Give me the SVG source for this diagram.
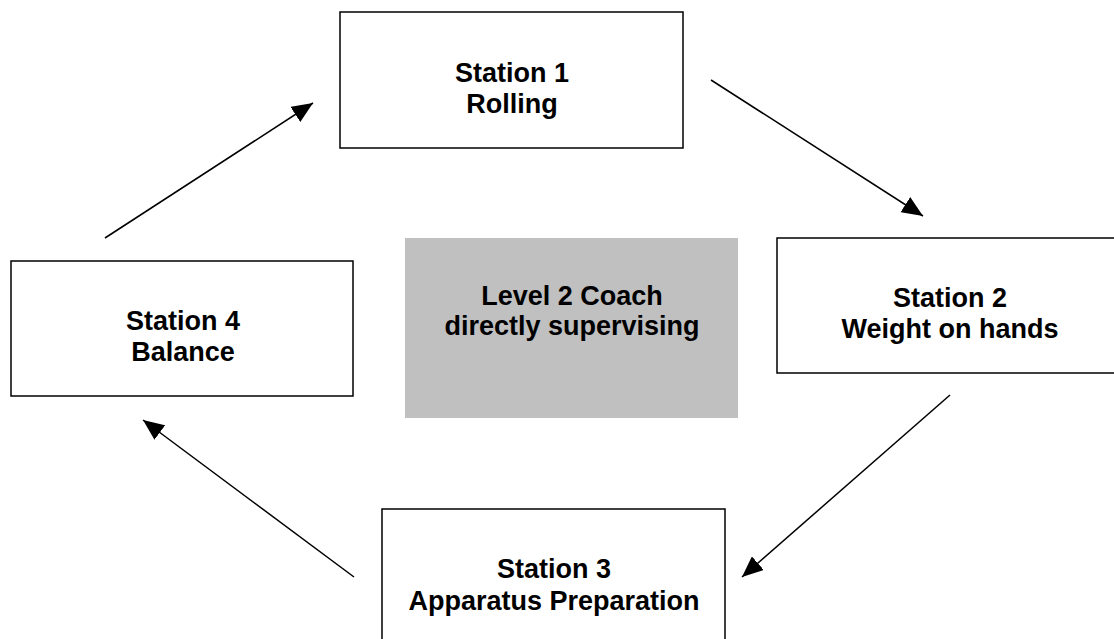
<svg xmlns="http://www.w3.org/2000/svg" width="1114" height="639" viewBox="0 0 1114 639">
  <style>
    .box { fill: #ffffff; stroke: #000000; stroke-width: 1.5; }
    .coach { fill: #c0c0c0; stroke: none; }
    .lbl { font-family: "Liberation Sans", Arial, sans-serif; font-weight: bold; font-size: 27px; fill: #000000; text-anchor: middle; }
    .conn { stroke: #000000; stroke-width: 1.5; fill: none; marker-end: url(#arrow); }
  </style>
  <defs>
    <marker id="arrow" markerUnits="userSpaceOnUse" viewBox="0 0 21 18" refX="21" refY="9" markerWidth="21" markerHeight="18" orient="auto">
      <path d="M0,0 L21,9 L0,18 z" fill="#000000"/>
    </marker>
  </defs>
  <rect width="1114" height="639" fill="#ffffff"/>

  <g id="station1">
    <rect class="box" x="340" y="12" width="343" height="136"/>
    <text class="lbl" x="512" y="82">Station 1</text>
    <text class="lbl" x="512" y="113">Rolling</text>
  </g>

  <g id="station2">
    <rect class="box" x="777" y="238" width="346" height="135"/>
    <text class="lbl" x="950" y="307">Station 2</text>
    <text class="lbl" x="950" y="338">Weight on hands</text>
  </g>

  <g id="station3">
    <rect class="box" x="382" y="509" width="343" height="140"/>
    <text class="lbl" x="554" y="578">Station 3</text>
    <text class="lbl" x="554" y="610">Apparatus Preparation</text>
  </g>

  <g id="station4">
    <rect class="box" x="11" y="261" width="342" height="135"/>
    <text class="lbl" x="183" y="330">Station 4</text>
    <text class="lbl" x="183" y="361">Balance</text>
  </g>

  <g id="coach">
    <rect class="coach" x="405" y="238" width="333" height="180"/>
    <text class="lbl" x="572" y="305">Level 2 Coach</text>
    <text class="lbl" x="572" y="335">directly supervising</text>
  </g>

  <g id="connectors">
    <line class="conn" x1="105" y1="238" x2="313" y2="103"/>
    <line class="conn" x1="711" y1="80" x2="923" y2="216"/>
    <line class="conn" x1="950" y1="395" x2="742" y2="577"/>
    <line class="conn" x1="354" y1="577" x2="143" y2="420"/>
  </g>
</svg>
